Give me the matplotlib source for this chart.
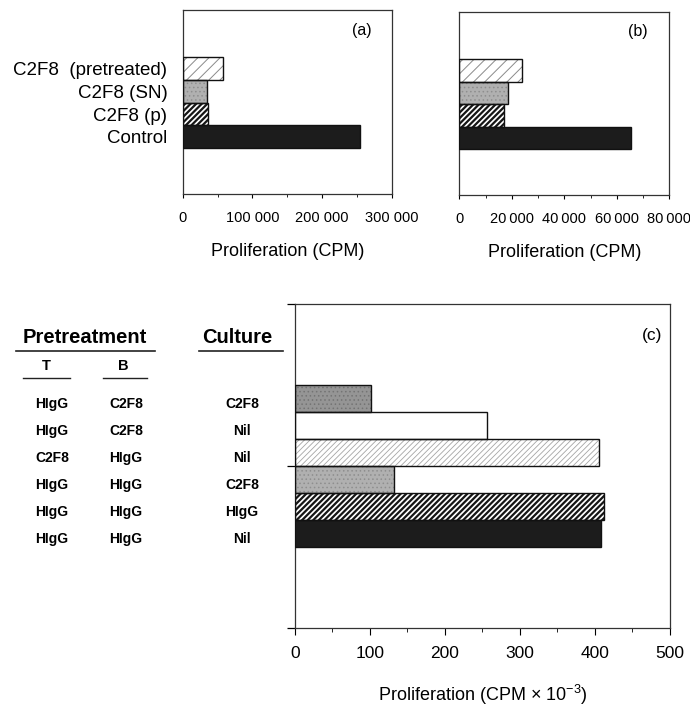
import numpy as np
import matplotlib
matplotlib.use('Agg')
import matplotlib.pyplot as plt
from matplotlib.lines import Line2D
from matplotlib import transforms

plt.rcParams['font.family'] = ['Liberation Sans', 'DejaVu Sans']
plt.rcParams['mathtext.fontset'] = 'custom'
plt.rcParams['mathtext.rm'] = 'Liberation Sans'

# panels (a) and (b), listed bottom to top
groups_ab = ['Control', 'C2F8 (p)', 'C2F8 (SN)', 'C2F8  (pretreated)']
cpm_a = [254500, 35900, 34400, 57400]
cpm_b = [65400, 16900, 18400, 24000]
ticks_a = [0, 100000, 200000, 300000]
ticks_b = [0, 20000, 40000, 60000, 80000]

# panel (c), listed bottom to top
pre_t = ['HIgG', 'HIgG', 'HIgG', 'C2F8', 'HIgG', 'HIgG']
pre_b = ['HIgG', 'HIgG', 'HIgG', 'HIgG', 'C2F8', 'C2F8']
culture = ['Nil', 'HIgG', 'C2F8', 'Nil', 'Nil', 'C2F8']
cpm_c = [408, 412, 132, 406, 256, 101]
ticks_c = [0, 100, 200, 300, 400, 500]

# bar fills (hatch colour is drawn with the edge colour, outline added after)
BLACK = dict(face='#1c1c1c')
DARK_HATCH = dict(face='white', hatch='//////', hcolor='#151515', hlw=1.6)
LIGHT_HATCH = dict(face='white', hatch='///', hcolor='#8a8a8a', hlw=0.7)
FINE_HATCH = dict(face='white', hatch='//////', hcolor='#a5a5a5', hlw=0.6)
GRAY = dict(face='#b0b0b0', hatch='....', hcolor='#8e8e8e', hlw=0.6)
DARK_GRAY = dict(face='#959595', hatch='....', hcolor='#747474', hlw=0.6)
WHITE = dict(face='white')

styles_ab = [BLACK, DARK_HATCH, GRAY, LIGHT_HATCH]
styles_c = [BLACK, DARK_HATCH, GRAY, FINE_HATCH, WHITE, DARK_GRAY]


def draw_bars(ax, values, styles):
    y = np.arange(len(values))
    for yi, v, st in zip(y, values, styles):
        with plt.rc_context({'hatch.linewidth': st.get('hlw', 1.0)}):
            ax.barh(yi, v, height=1.0, color=st['face'],
                    edgecolor=st.get('hcolor', st['face']),
                    hatch=st.get('hatch'), linewidth=0, zorder=2)
    ax.barh(y, values, height=1.0, fill=False, edgecolor='#111111',
            linewidth=1.0, zorder=3)
    return y


def fmt_thousands(v):
    return f'{v:,}'.replace(',', ' ')


def fmt_thin(v):
    return f'{v:,}'.replace(',', '\u2009')


def style_axes(ax):
    for s in ax.spines.values():
        s.set_color('#333333')
        s.set_linewidth(0.9)


fig = plt.figure(figsize=(6.9, 7.09), dpi=100)

# ---- (a)
axa = fig.add_axes([0.2648, 0.7264, 0.3029, 0.2595])
y = draw_bars(axa, cpm_a, styles_ab)
axa.set_xlim(0, 300000)
axa.set_ylim(-2.52, 5.58)
axa.set_yticks(y)
axa.set_yticklabels(groups_ab, fontsize=13.5)
axa.tick_params(axis='y', length=0, pad=11)
axa.set_xticks(ticks_a)
axa.set_xticklabels([fmt_thousands(t) for t in ticks_a], fontsize=10.5)
axa.set_xticks(np.arange(50000, 300000, 100000), minor=True)
axa.tick_params(axis='x', which='major', direction='out', length=3, pad=9)
axa.tick_params(axis='x', which='minor', direction='out', length=2)
axa.set_xlabel('Proliferation (CPM)', fontsize=13, labelpad=13)
axa.text(0.858, 0.891, '(a)', transform=axa.transAxes, ha='center',
         va='center', fontsize=11.5)
style_axes(axa)

# ---- (b)
axb = fig.add_axes([0.6657, 0.7250, 0.3043, 0.2581])
draw_bars(axb, cpm_b, styles_ab)
axb.set_xlim(0, 80000)
axb.set_ylim(-2.52, 5.58)
axb.set_yticks([])
axb.set_xticks(ticks_b)
axb.set_xticklabels([fmt_thin(t) for t in ticks_b], fontsize=10.5)
axb.set_xticks(np.arange(10000, 80000, 20000), minor=True)
axb.tick_params(axis='x', which='major', direction='out', length=3, pad=9)
axb.tick_params(axis='x', which='minor', direction='out', length=2)
axb.set_xlabel('Proliferation (CPM)', fontsize=13, labelpad=13)
axb.text(0.851, 0.896, '(b)', transform=axb.transAxes, ha='center',
         va='center', fontsize=11.5)
style_axes(axb)

# ---- (c)
axc = fig.add_axes([0.4275, 0.1142, 0.5435, 0.4570])
yc = draw_bars(axc, cpm_c, styles_c)
axc.set_xlim(0, 500)
axc.set_ylim(-3.5, 8.5)
axc.set_yticks([-3.5, 2.5, 8.5])
axc.set_yticklabels([])
axc.tick_params(axis='y', direction='out', length=6, width=0.9)
axc.set_xticks(ticks_c)
axc.set_xticklabels([str(t) for t in ticks_c], fontsize=12.5)
axc.set_xticks(np.arange(50, 500, 100), minor=True)
axc.tick_params(axis='x', which='major', direction='out', length=5, pad=8)
axc.tick_params(axis='x', which='minor', direction='out', length=3)
axc.set_xlabel('Proliferation (CPM × 10$^{-3}$)', fontsize=13, labelpad=16)
axc.text(0.952, 0.904, '(c)', transform=axc.transAxes, ha='center',
         va='center', fontsize=12.5)
style_axes(axc)

# treatment table to the left of (c)
fig.text(0.123, 0.5233, 'Pretreatment', ha='center', va='center',
         fontsize=14.5, fontweight='bold')
fig.text(0.3435, 0.5233, 'Culture', ha='center', va='center',
         fontsize=14.5, fontweight='bold')
fig.text(0.0667, 0.4838, 'T', ha='center', va='center', fontsize=10.5,
         fontweight='bold')
fig.text(0.178, 0.4838, 'B', ha='center', va='center', fontsize=10.5,
         fontweight='bold')
for x0, x1, yy, lw in [(16, 155, 351, 1.2), (199, 283, 351, 1.2),
                       (23, 70, 378.5, 1.0), (103, 147, 378.5, 1.0)]:
    fig.add_artist(Line2D([x0 / 690, x1 / 690], [1 - yy / 709, 1 - yy / 709],
                          transform=fig.transFigure, color='#222222', lw=lw))

row_trans = transforms.offset_copy(
    transforms.blended_transform_factory(fig.transFigure, axc.transData),
    fig=fig, y=-5, units='dots')
for yi, t, b, c in zip(yc, pre_t, pre_b, culture):
    for xx, s in [(0.0754, t), (0.1826, b), (0.3507, c)]:
        fig.text(xx, yi, s, transform=row_trans, ha='center', va='center',
                 fontsize=10, fontweight='bold')

fig.savefig('out.png', dpi=100)
